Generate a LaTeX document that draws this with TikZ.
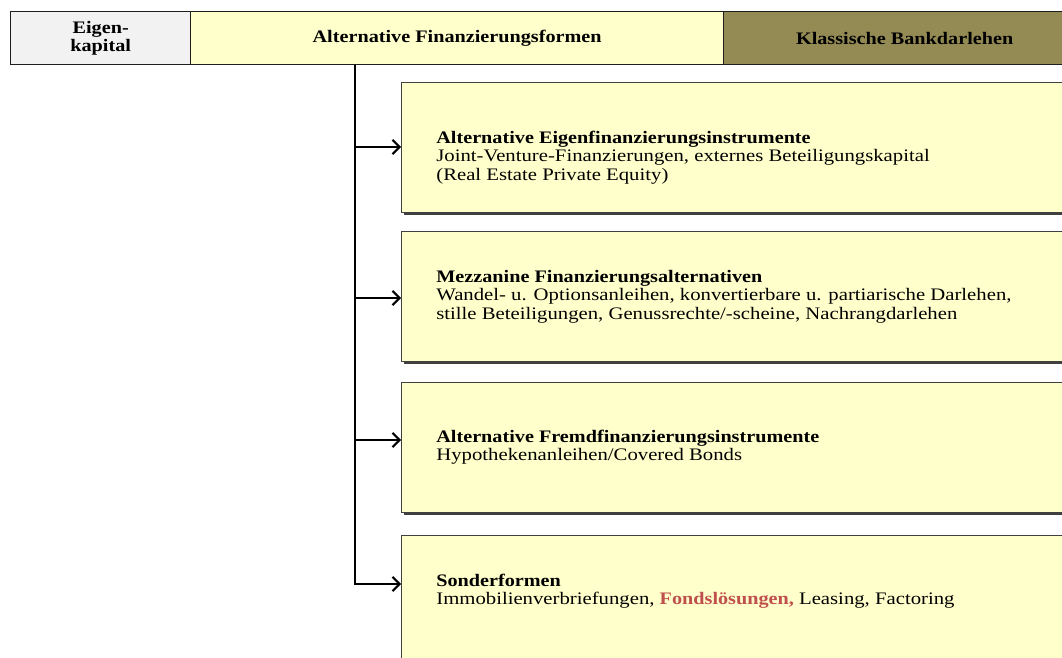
\documentclass[tikz,border=0pt]{standalone}
\usepackage{fontspec}
\setmainfont{Liberation Serif}[FakeStretch=1.18, BoldFeatures={FakeStretch=1.15}]
\usepackage{xcolor}
\usetikzlibrary{arrows.meta,calc,shadows}
\definecolor{figline}{RGB}{30,30,30}
\definecolor{figgrau}{RGB}{242,242,242}
\definecolor{figgelb}{RGB}{255,255,204}
\definecolor{figoliv}{RGB}{148,138,84}
\definecolor{figrot}{RGB}{192,80,77}
\tikzset{
  kopf/.style   ={draw=figline, line width=0.8pt, anchor=north west, minimum height=1.06cm,
                  inner sep=0pt, align=center, font=\fontsize{10}{10}\selectfont\bfseries},
  kasten/.style ={draw=figline!85, line width=0.5pt, fill=figgelb, anchor=north west,
                  minimum height=2.6cm, minimum width=13.6cm,
                  drop shadow={shadow xshift=1.2pt, shadow yshift=-1.4pt, fill=black!75, opacity=1}},
  inhalt/.style ={anchor=north west, align=left, inner sep=0pt, font=\fontsize{10}{10.4}\selectfont},
  pfeil/.style  ={draw=black, line width=1.3pt, line join=miter,
                  -{Straight Barb[length=4pt,width=8pt,line width=1.2pt]}},
}

\begin{document}
\begin{tikzpicture}[x=0.02cm,y=-0.02cm]
  \useasboundingbox (0,0) rectangle (1062,658);
  \node[kopf, fill=figgrau, minimum width=3.6cm] (ek) at (10,11) {Eigen-\\kapital};
  \node[kopf, fill=figgelb, minimum width=10.66cm] (af) at (190,11) {Alternative Finanzierungsformen};
  \node[kopf, fill=figoliv, minimum width=7.24cm] (kb) at (723,11) {Klassische Bankdarlehen};

  \node[kasten] (k1) at (401,82) {};
  \node[kasten] (k2) at (401,231) {};
  \node[kasten] (k3) at (401,382) {};
  \node[kasten] (k4) at (401,535) {};

  \node[inhalt] (t1) at (436,131) {\textbf{Alternative Eigenfinanzierungsinstrumente}\\
    Joint-Venture-Finanzierungen, externes Beteiligungskapital\\
    (Real Estate Private Equity)};
  \node[inhalt] (t2) at (436,270) {\textbf{Mezzanine Finanzierungsalternativen}\\
    Wandel- u. Optionsanleihen, konvertierbare u. partiarische Darlehen,\\
    stille Beteiligungen, Genussrechte/-scheine, Nachrangdarlehen};
  \node[inhalt] (t3) at (436,430) {\textbf{Alternative Fremdfinanzierungsinstrumente}\\
    Hypothekenanleihen/Covered Bonds};
  \node[inhalt] (t4) at (436,574) {\textbf{Sonderformen}\\
    Immobilienverbriefungen, \textcolor{figrot}{\textbf{Fondslösungen,}} Leasing, Factoring};

  \coordinate (a1) at (355,147);
  \coordinate (a2) at (355,298);
  \coordinate (a3) at (355,440);
  \coordinate (a4) at (355,584);
  \draw[pfeil] (a1 |- af.south) -- (a4) -- (a4 -| k4.west);
  \draw[pfeil] (a1) -- (a1 -| k1.west);
  \draw[pfeil] (a2) -- (a2 -| k2.west);
  \draw[pfeil] (a3) -- (a3 -| k3.west);
\end{tikzpicture}
\end{document}
